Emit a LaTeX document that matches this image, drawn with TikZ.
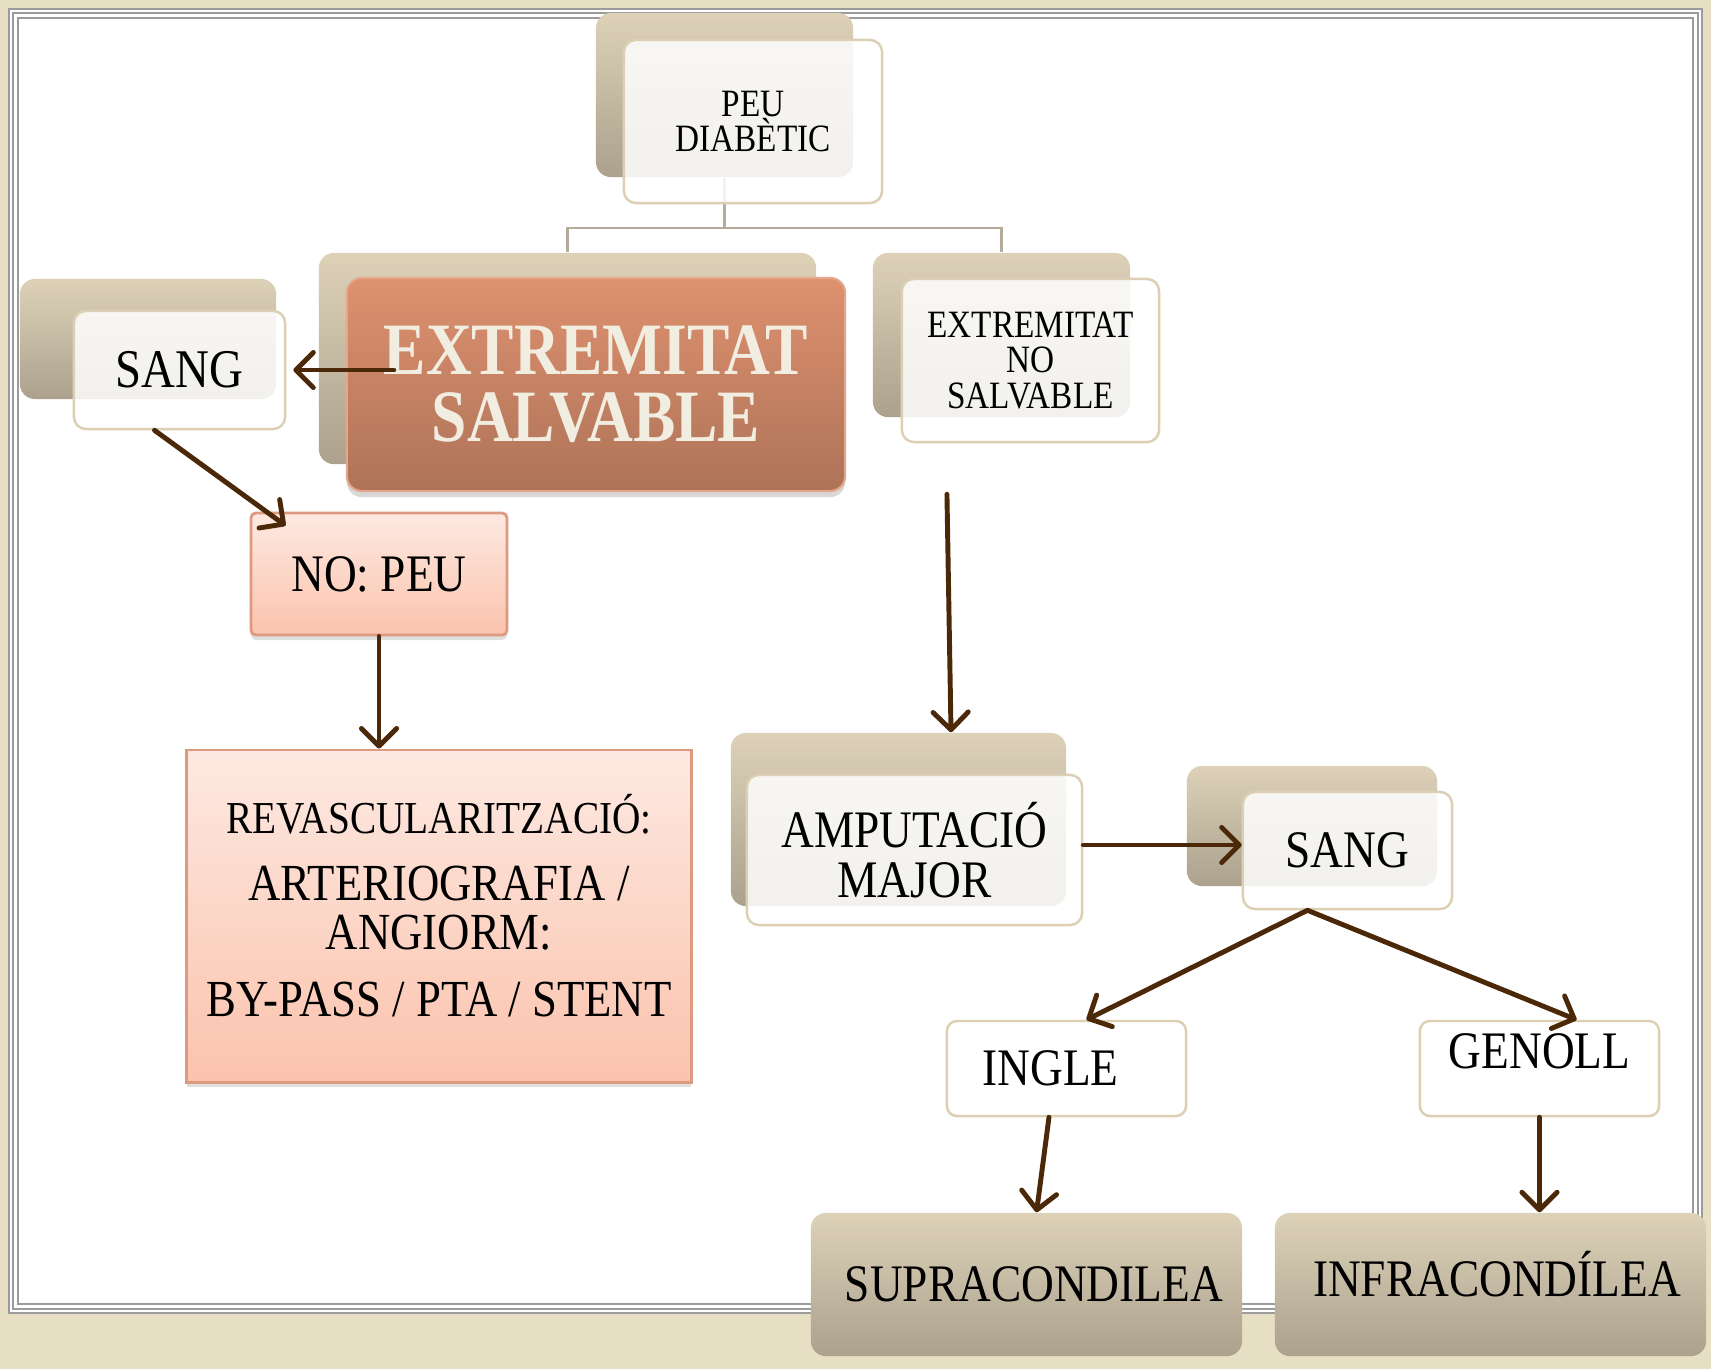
\documentclass[tikz,border=0pt]{standalone}
\usepackage{fontspec}
\setmainfont{Liberation Serif}[FakeStretch=0.86]
\usetikzlibrary{arrows.meta}
\usetikzlibrary{shadows}

\definecolor{bgbeige}{HTML}{E7DFC3}
\definecolor{framegrey}{HTML}{9B9B9B}
\definecolor{backtop}{HTML}{DDD2B8}
\definecolor{backbot}{HTML}{ABA18D}
\definecolor{frontline}{HTML}{DCCFB4}
\definecolor{salvtop}{HTML}{DE916F}
\definecolor{salvbot}{HTML}{AE7358}
\definecolor{salvtext}{HTML}{F1EDE0}
\definecolor{pinktop}{HTML}{FDE9E1}
\definecolor{pinkbot}{HTML}{FBC3AD}
\definecolor{pinkline}{HTML}{DE9A80}
\definecolor{arrowbrown}{HTML}{4A2808}
\definecolor{treeline}{HTML}{B4AB9A}

\tikzset{
  backbox/.style={rounded corners=0.15cm, top color=backtop, bottom color=backbot, inner sep=0pt},
  frontbox/.style={rounded corners=0.12cm, draw=frontline, line width=0.7pt, fill=white, fill opacity=0.85, text opacity=1, align=center, inner sep=1pt},
  salvbox/.style={rounded corners=0.15cm, top color=salvtop, bottom color=salvbot, draw=salvtop!80!white, line width=0.6pt, text=salvtext, align=center, inner sep=1pt, font=\fontsize{21pt}{19pt}\selectfont\bfseries, drop shadow={shadow xshift=0cm, shadow yshift=-0.06cm, opacity=0.3}},
  pinkbox/.style={top color=pinktop, bottom color=pinkbot, draw=pinkline, line width=0.8pt, align=center, inner sep=1pt, drop shadow={shadow xshift=0cm, shadow yshift=-0.05cm, opacity=0.25}},
  leafbox/.style={rounded corners=0.1cm, draw=frontline, line width=0.7pt, fill=white, inner sep=1pt, font=\fontsize{15pt}{15pt}\selectfont},
  endbox/.style={rounded corners=0.15cm, top color=backtop, bottom color=backbot, inner sep=1pt, font=\fontsize{15pt}{15pt}\selectfont},
  tree/.style={draw=treeline, line width=0.6pt},
  arr/.style={draw=arrowbrown, line width=1.4pt, line cap=round, -{Straight Barb[length=5pt,width=10pt,round]}}
}

\begin{document}
\begin{tikzpicture}[x=0.01cm, y=-0.01cm]
  \useasboundingbox (0,0) rectangle (1711,1369);
  \fill[bgbeige] (0,0) rectangle (1711,1369);
  \fill[white] (11,11) rectangle (1700,1311);
  \draw[framegrey, line width=1.7pt] (11,11) rectangle (1700,1311);
  \draw[white, line width=0.3pt] (11,11) rectangle (1700,1311);
  \draw[framegrey, line width=0.6pt] (18,18) rectangle (1693,1304);

  \node[backbox, minimum width=2.57cm, minimum height=1.64cm] (peuBack) at (724.5,95) {};
  \node[backbox, minimum width=4.97cm, minimum height=2.11cm] (salvBack) at (567.5,358.5) {};
  \node[backbox, minimum width=2.57cm, minimum height=1.64cm] (nosalvBack) at (1001.5,335) {};
  \node[backbox, minimum width=2.56cm, minimum height=1.20cm] (sangBackL) at (148,339) {};
  \node[backbox, minimum width=3.35cm, minimum height=1.73cm] (ampBack) at (898.5,819.5) {};
  \node[backbox, minimum width=2.50cm, minimum height=1.20cm] (sangBackR) at (1312,826) {};

  \draw[tree] (peuBack.south) -- ++(0,50) -| (salvBack.north);
  \draw[tree] (peuBack.south) ++(0,50) -| (nosalvBack.north);

  \node[frontbox, minimum width=2.58cm, minimum height=1.63cm, font=\fontsize{11pt}{10pt}\selectfont] (peu) at (753,121.5) {PEU\\DIABÈTIC};
  \node[salvbox, minimum width=4.98cm, minimum height=2.13cm] (salv) at (596,384.5) {EXTREMITAT\\SALVABLE};
  \node[frontbox, minimum width=2.57cm, minimum height=1.63cm, font=\fontsize{11pt}{10.1pt}\selectfont] (nosalv) at (1030.5,360.5) {EXTREMITAT\\NO\\SALVABLE};
  \node[frontbox, minimum width=2.11cm, minimum height=1.18cm, font=\fontsize{15.5pt}{15pt}\selectfont] (sangL) at (179.5,370) {SANG};
  \node[pinkbox, rounded corners=0.05cm, minimum width=2.56cm, minimum height=1.22cm, font=\fontsize{15pt}{15pt}\selectfont] (nopeu) at (379,574) {NO: PEU};
  \node[pinkbox, minimum width=5.04cm, minimum height=3.32cm, text depth=6pt, font=\fontsize{14.8pt}{14pt}\selectfont] (revasc) at (439,916)
    {{\fontsize{13pt}{14pt}\selectfont REVASCULARITZACIÓ:}\\[5pt]ARTERIOGRAFIA /\\ANGIORM:\\[5pt]BY-PASS / PTA / STENT};
  \node[frontbox, minimum width=3.35cm, minimum height=1.50cm, font=\fontsize{15pt}{14pt}\selectfont] (amp) at (914.5,850) {AMPUTACIÓ\\MAJOR};
  \node[frontbox, minimum width=2.09cm, minimum height=1.17cm, font=\fontsize{15pt}{15pt}\selectfont] (sangR) at (1347.5,850.5) {SANG};
  \node[leafbox, minimum width=2.39cm, minimum height=0.95cm] (ingle) at (1066.5,1068.5) {INGLE\hspace*{0.32cm}};
  \node[leafbox, minimum width=2.39cm, minimum height=0.95cm, text height=10pt, text depth=10pt] (genoll) at (1539.5,1068.5) {GENOLL};
  \node[endbox, minimum width=4.31cm, minimum height=1.43cm] (supra) at (1026.5,1284.5) {\hspace*{0.15cm}SUPRACONDILEA};
  \node[endbox, minimum width=4.31cm, minimum height=1.43cm, text height=10pt, text depth=3pt] (infra) at (1490.5,1284.5) {\hspace*{0.13cm}INFRACONDÍLEA};

  \coordinate (fork) at ([xshift=-0.4cm]sangR.south);

  \draw[arr] ([xshift=0.48cm]salv.west |- sangL.east) -- ([xshift=0.07cm]sangL.east);
  \draw[arr] ([xshift=-0.25cm]sangL.south) -- ([xshift=0.36cm, yshift=-0.14cm]nopeu.north west);
  \draw[arr] (nopeu.south) -- (nopeu.south |- revasc.north);
  \draw[arr] ([xshift=-0.835cm, yshift=-0.51cm]nosalv.south) -- ([xshift=0.525cm]ampBack.north);
  \draw[arr] ([yshift=0.05cm]amp.east) -- ([yshift=0.05cm]amp.east -| sangR.west);
  \draw[arr] (fork) -- ([xshift=0.2cm]ingle.north);
  \draw[arr] (fork) -- ([xshift=0.37cm]genoll.north);
  \draw[arr] ([xshift=-0.175cm]ingle.south) -- ([xshift=0.1cm]supra.north);
  \draw[arr] (genoll.south) -- (genoll.south |- infra.north);
\end{tikzpicture}
\end{document}
